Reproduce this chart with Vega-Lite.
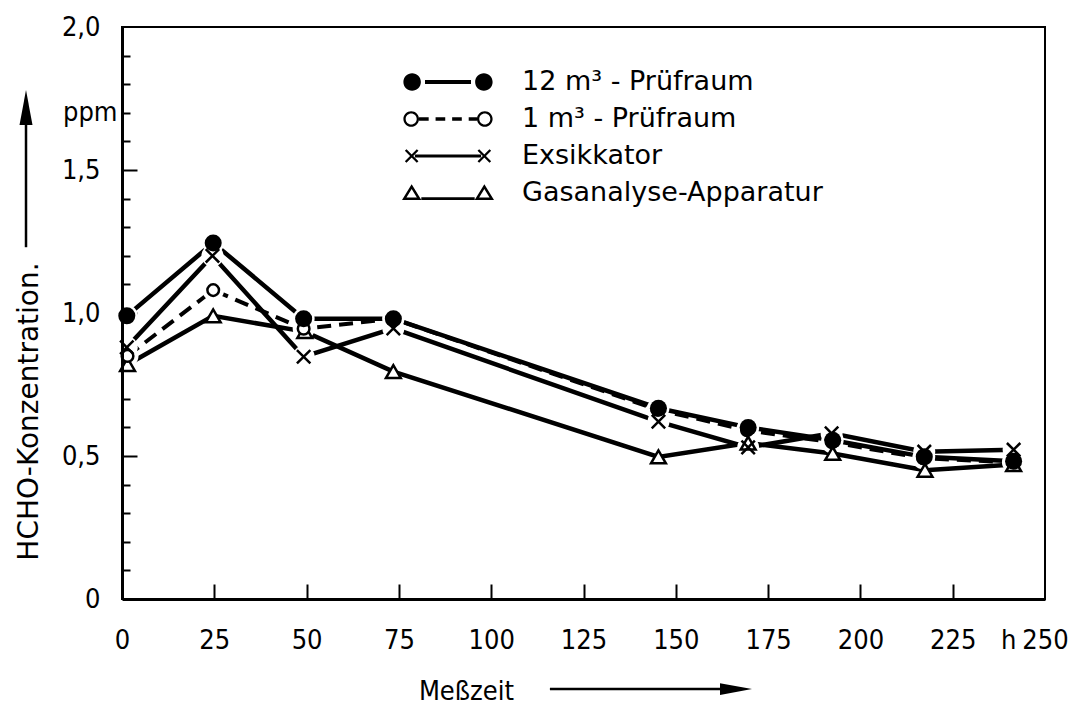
{
  "$schema": "https://vega.github.io/schema/vega-lite/v6.json",
  "width": 923,
  "height": 572,
  "autosize": {"type": "none"},
  "padding": {"left": 122, "top": 27, "right": 32, "bottom": 105},
  "background": "white",
  "config": {
    "view": {"stroke": "black", "strokeWidth": 2},
    "font": "DejaVu Sans Condensed",
    "axis": {
      "grid": false,
      "labelFont": "DejaVu Sans Condensed",
      "titleFont": "DejaVu Sans Condensed",
      "labelColor": "black",
      "titleColor": "black",
      "domainColor": "black",
      "tickColor": "black",
      "labelFontSize": 27,
      "titleFontSize": 27,
      "titleFontWeight": "normal",
      "labelFlush": false,
      "labelOverlap": false,
      "labelBound": false
    }
  },
  "datasets": {
    "hcho": [
      {"t": 1.3, "c": 0.99, "s": "12 m³ - Prüfraum"},
      {"t": 24.7, "c": 1.245, "s": "12 m³ - Prüfraum"},
      {"t": 49.2, "c": 0.98, "s": "12 m³ - Prüfraum"},
      {"t": 73.5, "c": 0.98, "s": "12 m³ - Prüfraum"},
      {"t": 145.3, "c": 0.667, "s": "12 m³ - Prüfraum"},
      {"t": 169.6, "c": 0.6, "s": "12 m³ - Prüfraum"},
      {"t": 192.5, "c": 0.555, "s": "12 m³ - Prüfraum"},
      {"t": 217.3, "c": 0.497, "s": "12 m³ - Prüfraum"},
      {"t": 241.5, "c": 0.482, "s": "12 m³ - Prüfraum"},
      {"t": 1.5, "c": 0.85, "s": "\u20071 m³ - Prüfraum"},
      {"t": 24.7, "c": 1.08, "s": "\u20071 m³ - Prüfraum"},
      {"t": 49.2, "c": 0.945, "s": "\u20071 m³ - Prüfraum"},
      {"t": 73.5, "c": 0.98, "s": "\u20071 m³ - Prüfraum"},
      {"t": 145.0, "c": 0.662, "s": "\u20071 m³ - Prüfraum"},
      {"t": 169.3, "c": 0.59, "s": "\u20071 m³ - Prüfraum"},
      {"t": 192.3, "c": 0.548, "s": "\u20071 m³ - Prüfraum"},
      {"t": 217.0, "c": 0.492, "s": "\u20071 m³ - Prüfraum"},
      {"t": 241.3, "c": 0.478, "s": "\u20071 m³ - Prüfraum"},
      {"t": 1.3, "c": 0.88, "s": "Exsikkator"},
      {"t": 24.5, "c": 1.2, "s": "Exsikkator"},
      {"t": 49.2, "c": 0.847, "s": "Exsikkator"},
      {"t": 73.5, "c": 0.946, "s": "Exsikkator"},
      {"t": 145.3, "c": 0.62, "s": "Exsikkator"},
      {"t": 169.6, "c": 0.53, "s": "Exsikkator"},
      {"t": 192.2, "c": 0.579, "s": "Exsikkator"},
      {"t": 217.3, "c": 0.515, "s": "Exsikkator"},
      {"t": 241.5, "c": 0.522, "s": "Exsikkator"},
      {"t": 1.5, "c": 0.82, "s": "Gasanalyse-Apparatur"},
      {"t": 24.7, "c": 0.99, "s": "Gasanalyse-Apparatur"},
      {"t": 49.5, "c": 0.935, "s": "Gasanalyse-Apparatur"},
      {"t": 73.5, "c": 0.795, "s": "Gasanalyse-Apparatur"},
      {"t": 145.3, "c": 0.497, "s": "Gasanalyse-Apparatur"},
      {"t": 169.6, "c": 0.545, "s": "Gasanalyse-Apparatur"},
      {"t": 192.5, "c": 0.509, "s": "Gasanalyse-Apparatur"},
      {"t": 217.5, "c": 0.45, "s": "Gasanalyse-Apparatur"},
      {"t": 241.5, "c": 0.47, "s": "Gasanalyse-Apparatur"}
    ]
  },
  "data": {"name": "hcho"},
  "resolve": {"axis": {"x": "independent", "y": "independent"}},
  "layer": [
    {
      "transform": [{"filter": {"not": {"field": "s", "equal": "\u20071 m³ - Prüfraum"}}}],
      "mark": {"type": "line", "color": "black", "strokeWidth": 4.5, "strokeCap": "butt"},
      "encoding": {
        "x": {
          "field": "t", "type": "quantitative",
          "scale": {"domain": [0, 250], "nice": false, "zero": false},
          "axis": {
            "orient": "bottom",
            "zindex": 1,
            "values": [0, 25, 50, 75, 100, 125, 150, 175, 200, 225, 240, 250],
            "labelExpr": "datum.value == 240 ? 'h' : format(datum.value, 'd')",
            "ticks": false,
            "domain": true,
            "domainWidth": 3,
            "labelAlign": "center",
            "labelBaseline": "alphabetic",
            "labelPadding": 49,
            "title": "Meßzeit",
            "titleX": 344,
            "titleY": 100,
            "titleAlign": "center",
            "titleBaseline": "alphabetic"
          }
        },
        "y": {
          "field": "c", "type": "quantitative",
          "scale": {"domain": [0, 2], "nice": false, "zero": true},
          "axis": {
            "orient": "left",
            "zindex": 1,
            "values": [0, 0.5, 1, 1.5, 2],
            "labelExpr": "datum.value == 0 ? '0' : replace(format(datum.value, '.1f'), '.', ',')",
            "ticks": false,
            "domain": true,
            "domainWidth": 3,
            "labelAlign": "right",
            "labelBaseline": "middle",
            "labelPadding": 22,
            "title": "HCHO-Konzentration.",
            "titleFont": "DejaVu Sans",
            "titleFontSize": 28,
            "titleAngle": 270,
            "titleX": -85,
            "titleY": 384,
            "titleAlign": "center",
            "titleBaseline": "alphabetic"
          }
        },
        "detail": {"field": "s", "type": "nominal"}
      }
    },
    {
      "transform": [{"filter": {"field": "s", "equal": "\u20071 m³ - Prüfraum"}}],
      "mark": {"type": "line", "color": "black", "strokeWidth": 4, "strokeCap": "butt", "strokeDash": [14, 8]},
      "encoding": {
        "x": {"field": "t", "type": "quantitative", "axis": null},
        "y": {"field": "c", "type": "quantitative", "axis": null}
      }
    },
    {
      "transform": [{"filter": {"not": {"field": "s", "equal": "Gasanalyse-Apparatur"}}}],
      "mark": {"type": "point", "shape": "circle", "filled": true, "color": "white", "size": 480, "opacity": 1},
      "encoding": {
        "x": {"field": "t", "type": "quantitative", "axis": null},
        "y": {"field": "c", "type": "quantitative", "axis": null}
      }
    },
    {
      "transform": [{"filter": {"field": "s", "equal": "Gasanalyse-Apparatur"}}],
      "mark": {"type": "point", "shape": "triangle-up", "filled": true, "fill": "white", "stroke": "black", "strokeWidth": 2.5, "size": 220, "opacity": 1},
      "encoding": {
        "x": {
          "field": "t", "type": "quantitative",
          "axis": {
            "orient": "bottom",
            "values": [25, 50, 75, 100, 125, 150, 175, 200, 225],
            "labels": false,
            "domain": false,
            "ticks": true,
            "tickSize": 15,
            "tickWidth": 2,
            "offset": -15,
            "title": null
          }
        },
        "y": {
          "field": "c", "type": "quantitative",
          "axis": {
            "orient": "left",
            "values": [0.5, 1, 1.5],
            "labels": false,
            "domain": false,
            "ticks": true,
            "tickSize": 15,
            "tickWidth": 2,
            "offset": -15,
            "title": null
          }
        }
      }
    },
    {
      "transform": [{"filter": {"field": "s", "equal": "\u20071 m³ - Prüfraum"}}],
      "mark": {"type": "point", "shape": "circle", "filled": true, "fill": "white", "stroke": "black", "strokeWidth": 2.5, "size": 135, "opacity": 1},
      "encoding": {
        "x": {"field": "t", "type": "quantitative", "axis": null},
        "y": {
          "field": "c", "type": "quantitative",
          "axis": {
            "orient": "left",
            "values": [0.1, 0.2, 0.3, 0.4, 0.6, 0.7, 0.8, 0.9, 1.1, 1.2, 1.3, 1.4, 1.6, 1.7, 1.8, 1.9],
            "labelExpr": "abs(datum.value - 1.7) < 0.001 ? 'ppm' : ''",
            "labelAlign": "right",
            "labelBaseline": "middle",
            "labelPadding": 5,
            "labelFont": "DejaVu Sans Condensed",
            "labelFontSize": 27,
            "domain": false,
            "ticks": true,
            "tickSize": 8,
            "tickWidth": 2,
            "offset": -8,
            "title": null
          }
        }
      }
    },
    {
      "transform": [{"filter": {"field": "s", "equal": "12 m³ - Prüfraum"}}],
      "mark": {"type": "point", "shape": "circle", "filled": true, "color": "black", "size": 290, "opacity": 1},
      "encoding": {
        "x": {"field": "t", "type": "quantitative", "axis": null},
        "y": {"field": "c", "type": "quantitative", "axis": null}
      }
    },
    {
      "transform": [{"filter": {"field": "s", "equal": "Exsikkator"}}],
      "mark": {"type": "point", "shape": "M-1,-1L1,1M-1,1L1,-1", "filled": false, "stroke": "black", "strokeWidth": 2.5, "size": 180, "opacity": 1},
      "encoding": {
        "x": {"field": "t", "type": "quantitative", "axis": null},
        "y": {"field": "c", "type": "quantitative", "axis": null}
      }
    },
    {
      "mark": {"type": "point", "filled": false, "stroke": "black", "size": 0, "opacity": 1},
      "encoding": {
        "shape": {
          "field": "s", "type": "nominal",
          "scale": {
            "domain": ["12 m³ - Prüfraum", "\u20071 m³ - Prüfraum", "Exsikkator", "Gasanalyse-Apparatur"],
            "range": [
              "M-0.97,0A0.19,0.19,0,1,0,-0.59,0A0.19,0.19,0,1,0,-0.97,0ZM0.59,0A0.19,0.19,0,1,0,0.97,0A0.19,0.19,0,1,0,0.59,0ZM-0.5,-0.043L0.5,-0.043L0.5,0.043L-0.5,0.043Z",
              "M-0.97,0A0.17,0.17,0,1,0,-0.63,0A0.17,0.17,0,1,0,-0.97,0ZM-0.92,0A0.12,0.12,0,1,1,-0.68,0A0.12,0.12,0,1,1,-0.92,0ZM0.63,0A0.17,0.17,0,1,0,0.97,0A0.17,0.17,0,1,0,0.63,0ZM0.68,0A0.12,0.12,0,1,1,0.92,0A0.12,0.12,0,1,1,0.68,0ZM-0.63,-0.04L-0.42,-0.04L-0.42,0.04L-0.63,0.04ZM-0.27,-0.04L-0.06,-0.04L-0.06,0.04L-0.27,0.04ZM0.09,-0.04L0.3,-0.04L0.3,0.04L0.09,0.04ZM0.45,-0.04L0.63,-0.04L0.63,0.04L0.45,0.04Z",
              "M-0.902,-0.148L-0.642,0.112L-0.678,0.148L-0.938,-0.112ZM-0.938,0.112L-0.678,-0.148L-0.642,-0.112L-0.902,0.148ZM0.678,-0.148L0.938,0.112L0.902,0.148L0.642,-0.112ZM0.642,0.112L0.902,-0.148L0.938,-0.112L0.678,0.148ZM-0.72,-0.033L0.72,-0.033L0.72,0.033L-0.72,0.033Z",
              "M-0.79,-0.19L-1.0,0.15L-0.58,0.15ZM-0.79,-0.087L-0.677,0.096L-0.903,0.096ZM0.79,-0.19L0.58,0.15L1.0,0.15ZM0.79,-0.087L0.903,0.096L0.677,0.096ZM-0.58,0.09L0.58,0.09L0.58,0.15L-0.58,0.15Z"
            ]
          },
          "legend": {
            "orient": "none",
            "legendX": 280,
            "legendY": 40,
            "title": null,
            "padding": 0,
            "symbolSize": 8464,
            "symbolStrokeWidth": 0,
            "clipHeight": 30,
            "rowPadding": 7,
            "labelFont": "DejaVu Sans",
            "labelFontSize": 27,
            "labelColor": "black",
            "labelOffset": 28,
            "labelLimit": 600
          }
        },
        "fill": {
          "field": "s", "type": "nominal",
          "scale": {
            "domain": ["12 m³ - Prüfraum", "\u20071 m³ - Prüfraum", "Exsikkator", "Gasanalyse-Apparatur"],
            "range": ["black", "black", "black", "black"]
          },
          "legend": {
            "orient": "none",
            "legendX": 280,
            "legendY": 40,
            "title": null,
            "padding": 0,
            "symbolSize": 8464,
            "symbolStrokeWidth": 0,
            "clipHeight": 30,
            "rowPadding": 7,
            "labelFont": "DejaVu Sans",
            "labelFontSize": 27,
            "labelColor": "black",
            "labelOffset": 28,
            "labelLimit": 600
          }
        }
      }
    },
    {
      "data": {"values": [{}]},
      "mark": {"type": "rule", "color": "black", "strokeWidth": 2.5},
      "encoding": {
        "x": {"datum": -26.0, "type": "quantitative", "axis": null},
        "y": {"datum": 1.23, "type": "quantitative", "axis": null},
        "y2": {"datum": 1.72}
      }
    },
    {
      "data": {"values": [{}]},
      "mark": {"type": "point", "shape": "M0,-1L-0.37,1L0.37,1Z", "filled": true, "color": "black", "size": 1225, "opacity": 1, "strokeWidth": 0},
      "encoding": {
        "x": {"datum": -26.0, "type": "quantitative", "axis": null},
        "y": {"datum": 1.7185, "type": "quantitative", "axis": null}
      }
    },
    {
      "data": {"values": [{}]},
      "mark": {"type": "rule", "color": "black", "strokeWidth": 2.5},
      "encoding": {
        "x": {"datum": 115.9, "type": "quantitative", "axis": null},
        "x2": {"datum": 163.0},
        "y": {"datum": -0.315, "type": "quantitative", "axis": null}
      }
    },
    {
      "data": {"values": [{}]},
      "mark": {"type": "point", "shape": "M1,0L-1,-0.37L-1,0.37Z", "filled": true, "color": "black", "size": 1024, "opacity": 1, "strokeWidth": 0},
      "encoding": {
        "x": {"datum": 166.3, "type": "quantitative", "axis": null},
        "y": {"datum": -0.315, "type": "quantitative", "axis": null}
      }
    }
  ]
}
